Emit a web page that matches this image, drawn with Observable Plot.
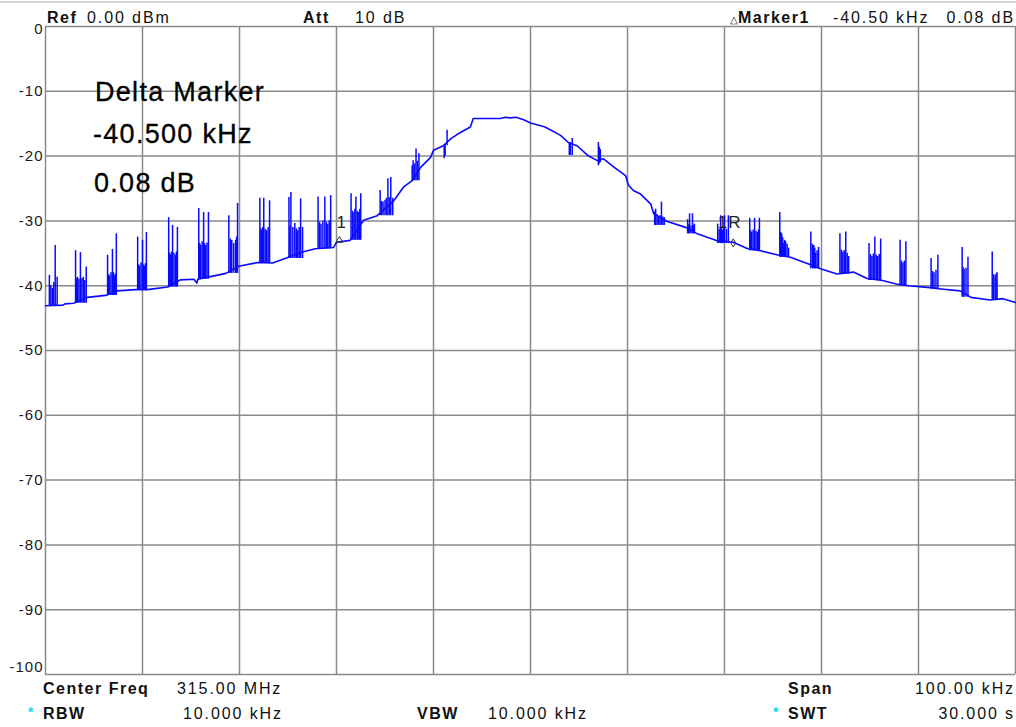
<!DOCTYPE html>
<html><head><meta charset="utf-8">
<script src="https://cdn.jsdelivr.net/npm/d3@7"></script>
<script src="https://cdn.jsdelivr.net/npm/@observablehq/plot@0.6"></script>
<style>
body{margin:0;background:#fff;}
#wrap{position:relative;width:1016px;height:727px;overflow:hidden;font-family:"Liberation Sans",Arial,sans-serif;}
#topline{position:absolute;left:0;top:1px;width:1016px;height:2px;background:#d6d6d6;}
.t{position:absolute;font-size:16px;letter-spacing:1.9px;color:#111;white-space:nowrap;line-height:1;}
.b{font-weight:bold;letter-spacing:1.5px;}
.r{text-align:right;}
.star{color:#19d9f0;font-weight:bold;}
.big{position:absolute;font-size:27px;letter-spacing:1.3px;color:#000;white-space:nowrap;line-height:1;-webkit-text-stroke:0.3px #000;}
svg text{letter-spacing:1px;}
</style>
</head><body>
<div id="wrap">
  <div id="topline"></div>
  <div id="chart" style="position:absolute;left:0;top:0;"></div>
  <div class="t b" style="left:47px;top:9.5px;">Ref</div>
  <div class="t" style="left:87px;top:9.5px;">0.00 dBm</div>
  <div class="t b" style="left:303px;top:9.5px;">Att</div>
  <div class="t" style="left:355px;top:9.5px;">10 dB</div>
  <div class="t b" style="left:730px;top:9.5px;"><span style="font-size:10px;font-weight:normal;letter-spacing:0;">△</span>Marker1</div>
  <div class="t" style="left:833px;top:9.5px;">-40.50 kHz</div>
  <div class="t r" style="right:1px;top:9.5px;">0.08 dB</div>

  <div class="big" style="left:95px;top:79px;">Delta Marker</div>
  <div class="big" style="left:93px;top:121px;">-40.500 kHz</div>
  <div class="big" style="left:94px;top:170px;">0.08 dB</div>

  <div class="t b" style="left:43px;top:680.5px;">Center Freq</div>
  <div class="t" style="left:177px;top:680.5px;">315.00 MHz</div>
  <div class="t b" style="left:788px;top:680.5px;">Span</div>
  <div class="t r" style="right:1px;top:680.5px;">100.00 kHz</div>

  <div class="t star" style="left:28px;top:705px;font-size:14px;">*</div>
  <div class="t b" style="left:43px;top:705.5px;">RBW</div>
  <div class="t" style="left:183px;top:705.5px;">10.000 kHz</div>
  <div class="t b" style="left:417px;top:705.5px;">VBW</div>
  <div class="t" style="left:488px;top:705.5px;">10.000 kHz</div>
  <div class="t star" style="left:773px;top:705px;font-size:14px;">*</div>
  <div class="t b" style="left:788px;top:705.5px;">SWT</div>
  <div class="t r" style="right:1px;top:705.5px;">30.000 s</div>
</div>
<script>
// Frequency offset from 315.00 MHz centre, kHz (span 100 kHz)
const xGrid = [-50, -40, -30, -20, -10, 0, 10, 20, 30, 40, 50];
// Level axis, dBm (ref 0 dBm, 10 dB/div)
const yTicks = [0, -10, -20, -30, -40, -50, -60, -70, -80, -90, -100];

// Trace baseline: [kHz offset, dBm]
const trace = [
  [-50.0,-43.1],[-48.2,-43.0],[-48.0,-42.8],[-47.1,-42.7],[-45.7,-41.8],[-43.8,-41.5],
  [-42.6,-40.8],[-40.7,-40.6],[-39.5,-40.6],[-37.4,-40.2],[-36.1,-39.1],[-34.7,-39.0],
  [-34.4,-39.6],[-34.3,-39.0],[-33.0,-38.6],[-31.4,-38.1],[-30.1,-37.0],[-28.0,-36.4],
  [-26.6,-36.5],[-25.3,-35.8],[-23.5,-34.8],[-22.2,-34.3],[-20.3,-34.1],[-20.0,-33.3],
  [-18.6,-33.0],[-17.2,-29.9],[-15.8,-29.2],[-14.1,-26.9],[-13.1,-24.8],[-12.2,-23.8],
  [-11.3,-21.7],[-10.3,-20.2],[-10.0,-19.1],[-9.0,-18.4],[-8.2,-17.3],[-7.5,-16.6],
  [-6.2,-15.5],[-5.9,-14.2],[-3.1,-14.2],[-2.6,-14.0],[-2.1,-14.1],[-1.5,-14.0],
  [-0.7,-14.4],[0.0,-14.9],[1.5,-15.5],[3.1,-16.8],[3.9,-17.9],[4.8,-18.4],
  [5.9,-19.9],[6.9,-20.7],[7.5,-20.4],[8.6,-21.7],[9.8,-23.0],[10.1,-24.5],
  [10.6,-25.3],[11.3,-25.8],[12.4,-27.4],[12.7,-28.9],[14.1,-30.1],[16.0,-31.0],
  [17.2,-32.0],[19.1,-33.0],[20.9,-33.3],[22.4,-34.3],[23.7,-34.6],[25.6,-35.3],
  [26.8,-35.6],[28.6,-36.6],[29.9,-37.4],[31.6,-38.2],[33.3,-37.9],[34.7,-38.9],
  [36.3,-39.2],[37.9,-39.8],[39.0,-40.0],[41.2,-40.3],[42.3,-40.5],[44.3,-40.8],
  [45.4,-41.8],[47.4,-42.2],[48.7,-42.0],[50.0,-42.6]
];

// Spurious spikes: [kHz offset, bottom dBm, top dBm]
const spikes = [
  [-49.6,-43.1,-38.4],[-49.45,-43.1,-40.0],[-49.3,-43.1,-40.4],[-49.15,-43.1,-39.5],[-49.0,-43.1,-33.8],[-48.8,-43.1,-38.7],
  [-46.9,-42.7,-34.6],[-46.8,-42.7,-38.9],[-46.7,-42.7,-38.7],[-46.55,-42.7,-39.0],[-46.4,-42.7,-34.9],[-46.25,-42.7,-38.9],[-46.1,-42.7,-38.7],[-45.95,-42.7,-39.2],[-45.8,-42.7,-37.1],
  [-43.6,-41.5,-35.3],[-43.5,-41.5,-38.3],[-43.4,-41.5,-38.5],[-43.25,-41.5,-38.0],[-43.1,-41.5,-34.4],[-43.0,-41.5,-38.0],[-42.9,-41.5,-38.5],[-42.8,-41.5,-38.2],[-42.7,-41.5,-32.0],
  [-40.5,-40.6,-32.5],[-40.4,-40.6,-36.8],[-40.3,-40.6,-37.0],[-40.15,-40.6,-36.5],[-40.0,-40.6,-33.0],[-39.9,-40.6,-36.8],[-39.8,-40.6,-37.0],[-39.7,-40.6,-36.6],[-39.6,-40.6,-31.8],
  [-37.3,-40.2,-29.5],[-37.2,-40.2,-35.0],[-37.1,-40.2,-35.3],[-37.0,-40.2,-34.8],[-36.9,-40.2,-30.7],[-36.75,-40.2,-35.0],[-36.6,-40.2,-35.3],[-36.5,-40.2,-34.8],[-36.4,-40.2,-31.0],
  [-34.2,-39.0,-28.1],[-34.1,-39.0,-33.5],[-34.0,-39.0,-33.8],[-33.85,-39.0,-33.2],[-33.7,-39.0,-28.7],[-33.6,-39.0,-33.5],[-33.5,-39.0,-33.8],[-33.35,-39.0,-33.4],[-33.2,-39.0,-28.7],
  [-31.1,-38.1,-29.2],[-30.95,-38.1,-32.8],[-30.8,-38.1,-33.0],[-30.6,-38.1,-33.5],[-30.4,-38.1,-33.0],[-30.3,-38.1,-32.5],[-30.2,-38.1,-27.3],
  [-27.9,-36.5,-26.5],[-27.8,-36.5,-31.2],[-27.7,-36.5,-31.5],[-27.6,-36.5,-31.0],[-27.5,-36.5,-26.5],[-27.35,-36.5,-31.3],[-27.2,-36.5,-31.5],[-27.05,-36.5,-31.0],[-26.9,-36.5,-26.9],
  [-24.9,-35.8,-26.4],[-24.8,-35.8,-30.8],[-24.7,-35.8,-25.6],[-24.5,-35.8,-31.0],[-24.3,-35.8,-30.4],[-24.15,-35.8,-31.2],[-24.0,-35.8,-31.5],[-23.85,-35.8,-31.0],[-23.7,-35.8,-26.6],[-23.5,-35.8,-31.0],
  [-21.9,-34.3,-26.3],[-21.75,-34.3,-30.2],[-21.6,-34.3,-30.5],[-21.4,-34.3,-30.0],[-21.2,-34.3,-26.3],[-21.05,-34.3,-30.2],[-20.9,-34.3,-30.5],[-20.75,-34.3,-30.0],[-20.6,-34.3,-26.1],
  [-18.5,-33.0,-25.8],[-18.35,-33.0,-28.5],[-18.2,-33.0,-28.7],[-18.1,-33.0,-28.2],[-18.0,-33.0,-26.3],[-17.85,-33.0,-28.5],[-17.7,-33.0,-28.7],[-17.6,-33.0,-28.2],[-17.5,-33.0,-25.8],
  [-15.5,-29.2,-25.3],[-15.35,-29.2,-27.0],[-15.2,-29.2,-27.1],[-15.0,-29.2,-26.8],[-14.85,-29.2,-26.5],[-14.7,-29.2,-23.5],[-14.55,-29.2,-26.4],[-14.4,-29.2,-23.3],[-14.2,-29.2,-26.5],
  [-12.2,-23.8,-21.5],[-12.1,-23.8,-20.7],[-11.95,-23.8,-21.2],[-11.8,-23.8,-18.9],[-11.65,-23.8,-20.8],[-11.5,-23.8,-19.6],
  [-8.9,-20.4,-18.4],[-8.8,-20.0,-18.2],[-8.6,-18.4,-16.0],
  [4.0,-19.9,-18.0],[4.1,-19.9,-17.9],[4.3,-19.9,-17.3],
  [7.0,-21.5,-17.9],[7.1,-21.2,-18.6],[7.2,-21.0,-19.0],
  [12.8,-30.7,-28.6],[12.9,-30.7,-28.2],[13.05,-30.7,-29.0],[13.2,-30.7,-29.5],[13.35,-30.7,-29.2],[13.5,-30.7,-27.1],[13.65,-30.7,-29.4],[13.8,-30.7,-29.5],
  [16.2,-32.0,-29.8],[16.3,-32.0,-30.6],[16.4,-32.0,-28.9],[16.55,-32.0,-30.8],[16.7,-32.0,-28.9],[16.8,-32.0,-30.7],[16.9,-32.0,-30.5],
  [19.3,-33.5,-30.5],[19.45,-33.5,-31.3],[19.6,-33.5,-29.2],[19.7,-33.5,-31.2],[19.8,-33.5,-31.5],[19.9,-33.5,-31.0],[20.0,-33.5,-29.2],[20.2,-33.5,-31.3],[20.4,-33.5,-29.2],
  [22.6,-34.6,-29.6],[22.7,-34.6,-31.5],[22.8,-34.6,-31.8],[22.95,-34.6,-31.4],[23.1,-34.6,-29.6],[23.25,-34.6,-31.6],[23.4,-34.6,-31.8],[23.5,-34.6,-31.4],[23.6,-34.6,-29.6],
  [25.7,-35.6,-28.7],[25.8,-35.6,-31.8],[25.9,-35.6,-32.0],[26.0,-35.6,-32.6],[26.1,-35.6,-33.5],[26.2,-35.6,-33.0],[26.3,-35.6,-33.2],[26.45,-35.6,-33.6],[26.6,-35.6,-34.2],
  [28.9,-37.4,-31.7],[29.05,-37.4,-33.6],[29.2,-37.4,-33.8],[29.3,-37.4,-34.2],[29.4,-37.4,-35.0],[29.55,-37.4,-34.6],[29.7,-37.4,-34.1],
  [31.9,-38.2,-32.0],[32.05,-38.2,-34.5],[32.2,-38.2,-34.8],[32.35,-38.2,-34.6],[32.5,-38.2,-31.7],[32.65,-38.2,-35.0],[32.8,-38.2,-35.5],
  [34.9,-39.2,-33.5],[35.05,-39.2,-35.2],[35.2,-39.2,-35.5],[35.35,-39.2,-35.1],[35.5,-39.2,-32.5],[35.65,-39.2,-35.3],[35.8,-39.2,-35.5],[35.95,-39.2,-35.2],[36.1,-39.2,-32.8],
  [38.1,-40.0,-33.0],[38.25,-40.0,-36.2],[38.4,-40.0,-36.5],[38.55,-40.0,-36.2],[38.7,-40.0,-33.2],
  [41.3,-40.5,-35.8],[41.45,-40.5,-37.8],[41.6,-40.5,-38.0],[41.8,-40.5,-37.6],[42.0,-40.5,-35.3],
  [44.5,-41.8,-34.1],[44.6,-41.8,-37.2],[44.7,-41.8,-37.5],[44.9,-41.8,-37.3],[45.1,-41.8,-35.6],
  [47.6,-42.2,-34.8],[47.75,-42.2,-38.3],[47.9,-42.2,-38.5],[48.0,-42.2,-38.2],[48.1,-42.2,-38.0]
];

// Markers: label, label position, symbol position
const markerLabels = [["1", -20.0, -30.2], ["1R", 19.3, -30.2]];
const markerSymbols = [["triangle", -19.7, -33.0], ["diamond", 20.9, -33.4]];

const blue = "#0a0aff";
const grid = "#8a8a8a";
const fmt = d => String(d);

const chart = Plot.plot({
  width: 1016, height: 727,
  marginLeft: 45, marginRight: 1, marginTop: 26, marginBottom: 53,
  x: {domain: [-50, 50], axis: null},
  y: {domain: [-100, 0], axis: null},
  style: {background: "transparent", fontFamily: "Liberation Sans, Arial, sans-serif"},
  marks: [
    Plot.ruleX(xGrid, {stroke: grid, strokeWidth: 1.5}),
    Plot.ruleY(yTicks, {stroke: grid, strokeWidth: 1.5}),
    Plot.text(yTicks.filter(d => d === 0), {x: () => -50, y: d => d, text: fmt, textAnchor: "end", dx: -2, dy: 3, fontSize: 15, fill: "#1a1a1a", clip: false}),
    Plot.text(yTicks.filter(d => d !== 0 && d !== -100), {x: () => -50, y: d => d, text: fmt, textAnchor: "end", dx: -2, fontSize: 15, fill: "#1a1a1a", clip: false}),
    Plot.text(yTicks.filter(d => d === -100), {x: () => -50, y: d => d, text: fmt, textAnchor: "end", dx: -2, dy: -7, fontSize: 15, fill: "#1a1a1a", clip: false}),
    Plot.ruleX(spikes, {x: d => d[0], y1: d => d[1], y2: d => d[2], stroke: blue, strokeWidth: 1.5}),
    Plot.line(trace, {x: d => d[0], y: d => d[1], stroke: blue, strokeWidth: 1.6}),
    Plot.text(markerLabels, {x: d => d[1], y: d => d[2], text: d => d[0], textAnchor: "start", fontSize: 17, fill: "#222"}),
    Plot.dot(markerSymbols, {x: d => d[1], y: d => d[2], symbol: d => d[0], r: 2.5, stroke: "#333", strokeWidth: 1, fill: "none"})
  ]
});
document.getElementById("chart").appendChild(chart);
</script>
</body></html>
